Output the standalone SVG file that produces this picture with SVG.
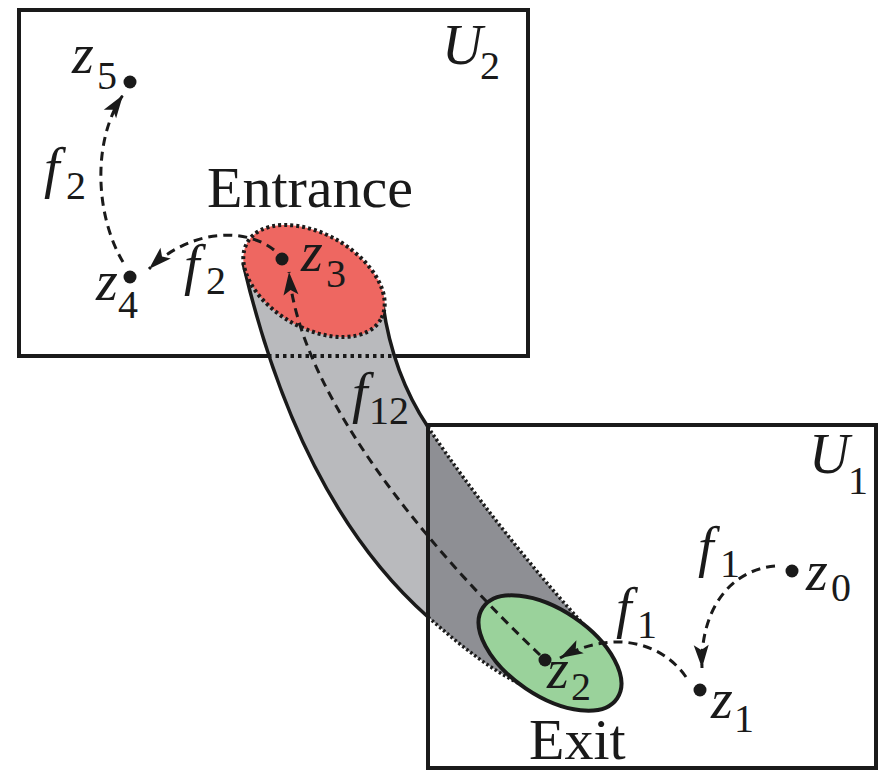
<svg xmlns="http://www.w3.org/2000/svg" width="878" height="771" viewBox="0 0 878 771">
<defs>
<style>
.box{fill:none;stroke:#1a1a1a;stroke-width:4}
.edge{fill:none;stroke:#1a1a1a;stroke-width:3.5}
.dot{fill:none;stroke:#1a1a1a;stroke-width:3.5;stroke-dasharray:2.5 2.5}
.arr{fill:none;stroke:#1a1a1a;stroke-width:3;stroke-dasharray:9 6;marker-end:url(#ah)}
.pt{fill:#1a1a1a}
.m{font-family:"Liberation Serif","Times New Roman",serif;font-style:italic;font-size:56px;fill:#1a1a1a}
.s{font-family:"Liberation Serif","Times New Roman",serif;font-style:normal;font-size:40px;fill:#1a1a1a}
.w{font-family:"Liberation Serif","Times New Roman",serif;font-size:58px;fill:#1a1a1a}
</style>
<marker id="ah" markerUnits="userSpaceOnUse" markerWidth="28" markerHeight="20" refX="24" refY="10" orient="auto" overflow="visible">
<path d="M24,10 L1,2.5 L6,10 L1,17.5 Z" fill="#1a1a1a"/>
</marker>
</defs>
<rect width="878" height="771" fill="#ffffff"/>

<g id="U2">
<rect class="box" x="19" y="10" width="509" height="346"/>
<text class="m" x="442" y="64">U</text><text class="s" x="480" y="79">2</text>
</g>

<g id="tube">
<path d="M243,263 C275,400 330,530 428,617 L428,427 C400,385 388,340 383,305 Z" fill="#b9babd"/>
<path d="M428,427 C470,490 540,580 603,645 L526,687 C490,670 460,645 428,617 Z" fill="#8e8f94"/>
<path class="edge" d="M243,263 C275,400 330,530 428,617"/>
<path class="edge" d="M383,305 C388,340 400,385 428,427"/>
<path class="dot" d="M428,427 C470,490 540,580 603,645"/>
<path class="dot" d="M428,617 C460,645 490,670 526,687"/>
<line class="dot" x1="268" y1="356" x2="395" y2="356" style="stroke-width:4;stroke-dasharray:3.5 4"/>
</g>

<g id="U1">
<rect class="box" x="428" y="425" width="448" height="343"/>
<text class="m" x="809" y="473">U</text><text class="s" x="848" y="494">1</text>
</g>

<g id="entrance">
<ellipse cx="314" cy="281" rx="77" ry="47" transform="rotate(30 314 281)" fill="#ee6761"/>
<ellipse class="dot" cx="314" cy="281" rx="77" ry="47" transform="rotate(30 314 281)" style="stroke-width:4;stroke-dasharray:3 3"/>
<text class="w" x="207" y="207">Entrance</text>
</g>

<g id="exit">
<ellipse cx="550" cy="653" rx="81" ry="43" transform="rotate(34 550 653)" fill="#9ad29b" stroke="#1a1a1a" stroke-width="4"/>
<text class="w" x="529" y="759">Exit</text>
</g>

<g id="connectors">
<path class="arr" d="M123,262 C95,215 92,140 123,95"/>
<path class="arr" d="M274,250 C250,230 195,225 149,269"/>
<path class="arr" d="M540,655 C440,560 300,400 289,272"/>
<path class="arr" d="M686,677 C660,640 610,630 560,658"/>
<path class="arr" d="M775,566 C730,570 700,610 702,668"/>
<text class="m" x="44" y="187">f</text><text class="s" x="66" y="199">2</text>
<text class="m" x="184" y="284">f</text><text class="s" x="206" y="294">2</text>
<text class="m" x="352" y="412">f</text><text class="s" x="369" y="424">12</text>
<text class="m" x="698" y="566">f</text><text class="s" x="720" y="577">1</text>
<text class="m" x="616" y="627">f</text><text class="s" x="637" y="638">1</text>
</g>

<g id="z5"><circle class="pt" cx="130" cy="82" r="6.5"/><text class="m" x="72" y="73">z</text><text class="s" x="97" y="89">5</text></g>
<g id="z4"><circle class="pt" cx="130" cy="277" r="6.5"/><text class="m" x="96" y="300">z</text><text class="s" x="118" y="318">4</text></g>
<g id="z3"><circle class="pt" cx="282" cy="259" r="6.5"/><text class="m" x="301" y="271">z</text><text class="s" x="326" y="287">3</text></g>
<g id="z2"><circle class="pt" cx="545" cy="660" r="6.5"/><text class="m" x="547" y="688">z</text><text class="s" x="571" y="700">2</text></g>
<g id="z1"><circle class="pt" cx="700" cy="690" r="6.5"/><text class="m" x="711" y="718">z</text><text class="s" x="734" y="732">1</text></g>
<g id="z0"><circle class="pt" cx="792" cy="571" r="6.5"/><text class="m" x="806" y="590">z</text><text class="s" x="831" y="601">0</text></g>
</svg>
